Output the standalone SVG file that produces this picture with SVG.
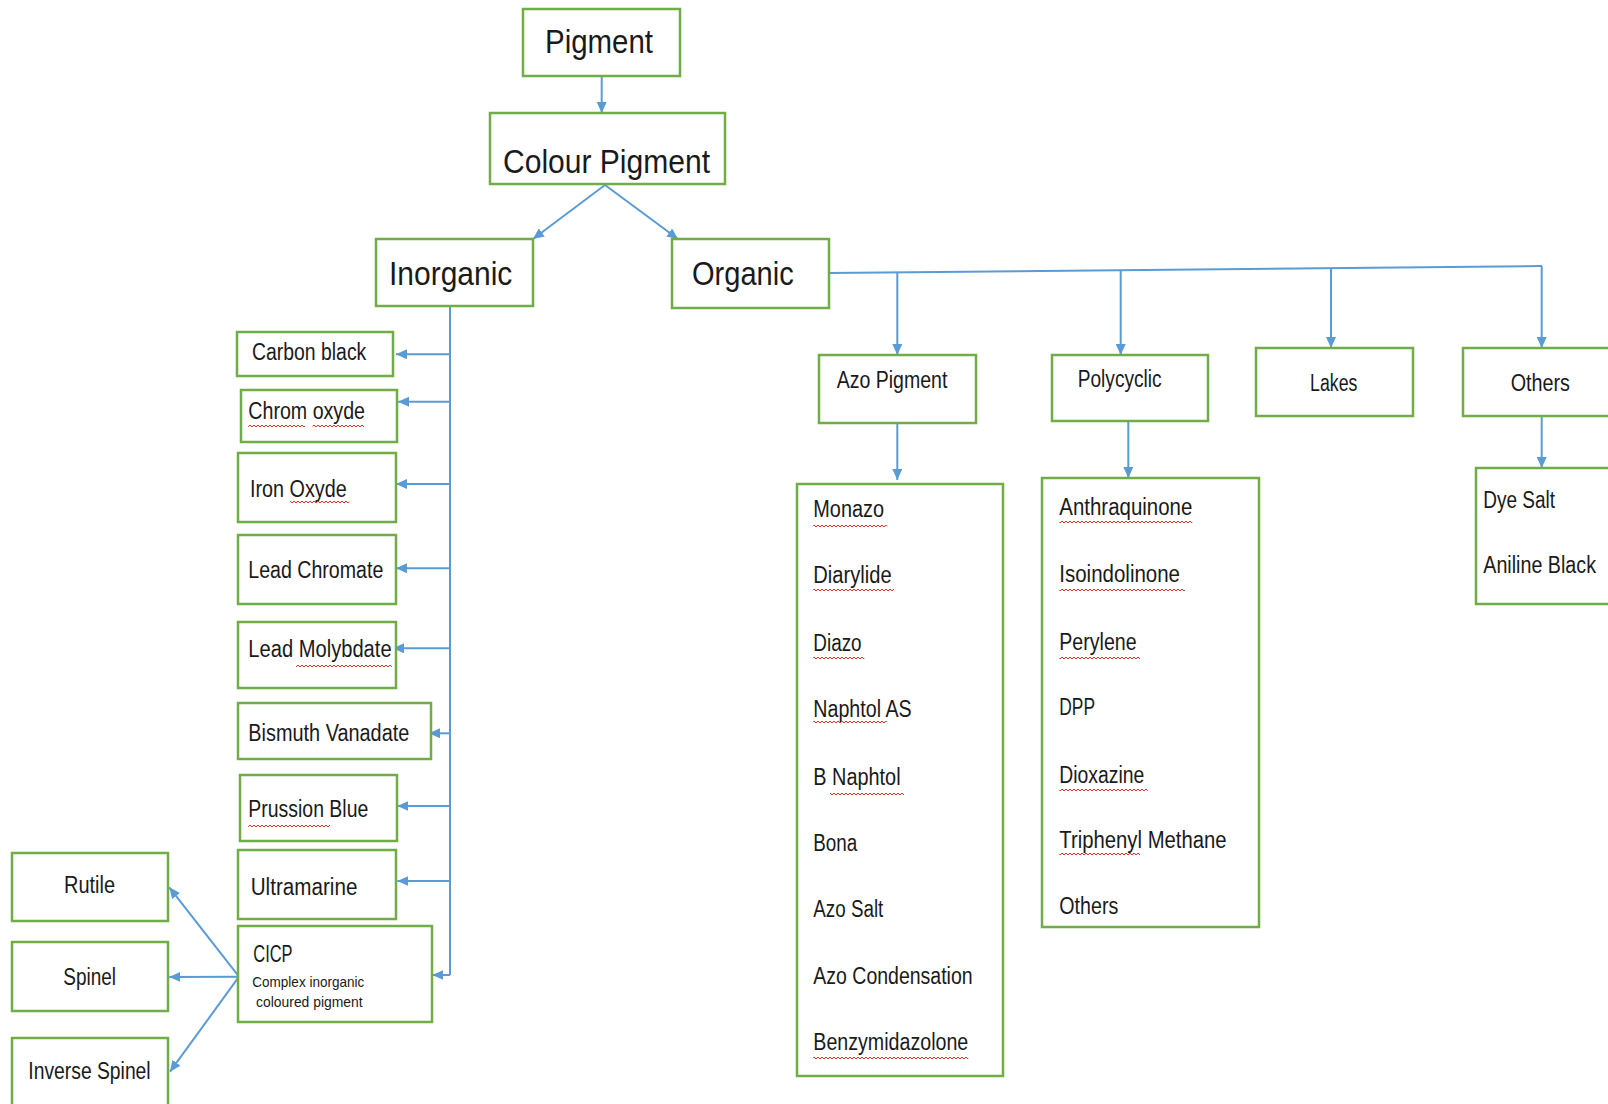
<svg xmlns="http://www.w3.org/2000/svg" width="1608" height="1104" viewBox="0 0 1608 1104">
<style>
.box{fill:#fff;stroke:#70AD47;stroke-width:2.5}
.t{font-family:"Liberation Sans",Arial,sans-serif;fill:#1a1a1a}
.xl{font-size:34px}
.md{font-size:23px}
.sm{font-size:14.5px}
.c{stroke:#5B9BD5;stroke-width:2;fill:none}
.arr{marker-end:url(#ah)}
.sq{fill:url(#squig)}
</style>
<defs>
<marker id="ah" markerUnits="userSpaceOnUse" markerWidth="12" markerHeight="10" refX="11" refY="5" orient="auto">
<path d="M0,0 L11,5 L0,10 z" fill="#5B9BD5"/>
</marker>
<pattern id="squig" patternUnits="userSpaceOnUse" width="4" height="4">
<path d="M0,3 L2,1 L4,3" stroke="#E03030" stroke-width="1" fill="none"/>
</pattern>
</defs>
<rect width="1608" height="1104" fill="#fff"/>

<g id="connectors">
<line class="c arr" x1="601.7" y1="76" x2="601.7" y2="113"/>
<line class="c arr" x1="605" y1="185" x2="533" y2="239"/>
<line class="c arr" x1="605" y1="185" x2="678" y2="239"/>
<line class="c" x1="829" y1="273" x2="1542" y2="266"/>
<line class="c arr" x1="897.3" y1="272.3" x2="897.3" y2="355"/>
<line class="c arr" x1="1120.7" y1="270" x2="1120.7" y2="355"/>
<line class="c arr" x1="1331" y1="268" x2="1331" y2="348"/>
<line class="c arr" x1="1541.7" y1="266" x2="1541.7" y2="348"/>
<line class="c arr" x1="897.3" y1="423" x2="897.3" y2="480"/>
<line class="c arr" x1="1128.3" y1="421" x2="1128.3" y2="478"/>
<line class="c arr" x1="1541.7" y1="416" x2="1541.7" y2="468"/>
<line class="c" x1="450" y1="306" x2="450" y2="975"/>
<line class="c arr" x1="450" y1="354.3" x2="396" y2="354.3"/>
<line class="c arr" x1="450" y1="401.7" x2="398" y2="401.7"/>
<line class="c arr" x1="450" y1="484" x2="396" y2="484"/>
<line class="c arr" x1="450" y1="568.3" x2="396" y2="568.3"/>
<line class="c arr" x1="450" y1="648.3" x2="393" y2="648.3"/>
<line class="c arr" x1="450" y1="733.3" x2="429" y2="733.3"/>
<line class="c arr" x1="450" y1="806" x2="397.3" y2="806"/>
<line class="c arr" x1="450" y1="881" x2="397.3" y2="881"/>
<line class="c arr" x1="450" y1="975" x2="432.3" y2="975"/>
<line class="c arr" x1="239" y1="976.7" x2="169.3" y2="887.3"/>
<line class="c arr" x1="239" y1="976.7" x2="169.3" y2="977"/>
<line class="c arr" x1="239" y1="976.7" x2="170" y2="1071.7"/>
</g>

<g id="pigment"><rect class="box" x="523" y="9" width="157" height="67"/><text class="t xl" x="545" y="53" textLength="108" lengthAdjust="spacingAndGlyphs">Pigment</text></g>
<g id="colour-pigment"><rect class="box" x="490" y="113" width="235" height="71"/><text class="t xl" x="503" y="172.7" textLength="207" lengthAdjust="spacingAndGlyphs">Colour Pigment</text></g>
<g id="inorganic"><rect class="box" x="376" y="239" width="157" height="67"/><text class="t xl" x="389" y="285" textLength="123.3" lengthAdjust="spacingAndGlyphs">Inorganic</text></g>
<g id="organic"><rect class="box" x="672" y="239" width="157" height="69"/><text class="t xl" x="692" y="285" textLength="101.7" lengthAdjust="spacingAndGlyphs">Organic</text></g>

<g id="carbon-black"><rect class="box" x="237" y="332" width="156" height="44"/><text class="t md" x="252" y="360" textLength="114.3" lengthAdjust="spacingAndGlyphs">Carbon black</text></g>
<g id="chrom-oxyde"><rect class="box" x="241" y="390" width="156" height="52"/><text class="t md" x="248.3" y="418.7" textLength="116.7" lengthAdjust="spacingAndGlyphs">Chrom oxyde</text><rect class="sq" x="248.3" y="424" width="56.7" height="4"/><rect class="sq" x="312.7" y="424" width="51.3" height="4"/></g>
<g id="iron-oxyde"><rect class="box" x="238" y="453" width="158" height="69"/><text class="t md" x="250" y="496.7" textLength="96.7" lengthAdjust="spacingAndGlyphs">Iron Oxyde</text><rect class="sq" x="290" y="500" width="59.3" height="4"/></g>
<g id="lead-chromate"><rect class="box" x="238" y="535" width="158" height="69"/><text class="t md" x="248.3" y="578" textLength="135" lengthAdjust="spacingAndGlyphs">Lead Chromate</text></g>
<g id="lead-molybdate"><rect class="box" x="238" y="622" width="158" height="66"/><text class="t md" x="248.3" y="656.7" textLength="143.3" lengthAdjust="spacingAndGlyphs">Lead Molybdate</text><rect class="sq" x="296" y="664" width="95.7" height="4"/></g>
<g id="bismuth-vanadate"><rect class="box" x="238" y="703" width="193" height="56"/><text class="t md" x="248.3" y="740.7" textLength="161" lengthAdjust="spacingAndGlyphs">Bismuth Vanadate</text></g>
<g id="prussion-blue"><rect class="box" x="240" y="775" width="157" height="66"/><text class="t md" x="248.3" y="817.3" textLength="120" lengthAdjust="spacingAndGlyphs">Prussion Blue</text><rect class="sq" x="248.3" y="824" width="81.7" height="4"/></g>
<g id="ultramarine"><rect class="box" x="238" y="850" width="158" height="69"/><text class="t md" x="250.7" y="895" textLength="106.7" lengthAdjust="spacingAndGlyphs">Ultramarine</text></g>
<g id="cicp"><rect class="box" x="238" y="926" width="194" height="96"/><text class="t" font-size="24" x="253.3" y="961.7" textLength="39.3" lengthAdjust="spacingAndGlyphs">CICP</text><text class="t sm" x="252.3" y="987.3" textLength="112" lengthAdjust="spacingAndGlyphs">Complex inorganic</text><text class="t sm" x="256" y="1007.3" textLength="106.7" lengthAdjust="spacingAndGlyphs">coloured pigment</text></g>

<g id="rutile"><rect class="box" x="12" y="853" width="156" height="68"/><text class="t md" x="89.5" y="893.3" text-anchor="middle" textLength="51" lengthAdjust="spacingAndGlyphs">Rutile</text></g>
<g id="spinel"><rect class="box" x="12" y="942" width="156" height="69"/><text class="t md" x="89.7" y="985" text-anchor="middle" textLength="52.7" lengthAdjust="spacingAndGlyphs">Spinel</text></g>
<g id="inverse-spinel"><rect class="box" x="12" y="1038" width="156" height="80"/><text class="t md" x="89.5" y="1079.3" text-anchor="middle" textLength="122.3" lengthAdjust="spacingAndGlyphs">Inverse Spinel</text></g>

<g id="azo-pigment"><rect class="box" x="819" y="355" width="157" height="68"/><text class="t md" x="836.7" y="388.3" textLength="110.7" lengthAdjust="spacingAndGlyphs">Azo Pigment</text></g>
<g id="polycyclic"><rect class="box" x="1052" y="355" width="156" height="66"/><text class="t md" x="1077.7" y="387.3" textLength="84" lengthAdjust="spacingAndGlyphs">Polycyclic</text></g>
<g id="lakes"><rect class="box" x="1256" y="348" width="157" height="68"/><text class="t md" x="1333.7" y="390.7" text-anchor="middle" textLength="47.3" lengthAdjust="spacingAndGlyphs">Lakes</text></g>
<g id="others"><rect class="box" x="1463" y="348" width="160" height="68"/><text class="t md" x="1540.3" y="390.7" text-anchor="middle" textLength="59.3" lengthAdjust="spacingAndGlyphs">Others</text></g>

<g id="azo-list"><rect class="box" x="797" y="484" width="206" height="592"/>
<text class="t md" x="813.3" y="516.7" textLength="70.7" lengthAdjust="spacingAndGlyphs">Monazo</text><rect class="sq" x="813.3" y="524" width="73.4" height="4"/>
<text class="t md" x="813.3" y="583.3" textLength="78.3" lengthAdjust="spacingAndGlyphs">Diarylide</text><rect class="sq" x="813.3" y="588" width="80.7" height="4"/>
<text class="t md" x="813.3" y="651" textLength="48.3" lengthAdjust="spacingAndGlyphs">Diazo</text><rect class="sq" x="813.3" y="656" width="51" height="4"/>
<text class="t md" x="813.3" y="716.7" textLength="98.3" lengthAdjust="spacingAndGlyphs">Naphtol AS</text><rect class="sq" x="813.3" y="720" width="73.4" height="4"/>
<text class="t md" x="813.3" y="785" textLength="87.3" lengthAdjust="spacingAndGlyphs">B Naphtol</text><rect class="sq" x="830" y="792" width="74" height="4"/>
<text class="t md" x="813.3" y="851" textLength="44" lengthAdjust="spacingAndGlyphs">Bona</text>
<text class="t md" x="813.3" y="916.7" textLength="70" lengthAdjust="spacingAndGlyphs">Azo Salt</text>
<text class="t md" x="813.3" y="984" textLength="159.3" lengthAdjust="spacingAndGlyphs">Azo Condensation</text>
<text class="t md" x="813.3" y="1050" textLength="155" lengthAdjust="spacingAndGlyphs">Benzymidazolone</text><rect class="sq" x="813.3" y="1056" width="155" height="4"/>
</g>

<g id="polycyclic-list"><rect class="box" x="1042" y="478" width="217" height="449"/>
<text class="t md" x="1059.3" y="515" textLength="133" lengthAdjust="spacingAndGlyphs">Anthraquinone</text><rect class="sq" x="1059.3" y="520" width="133" height="4"/>
<text class="t md" x="1059.3" y="581.7" textLength="120.7" lengthAdjust="spacingAndGlyphs">Isoindolinone</text><rect class="sq" x="1059.3" y="588" width="125.7" height="4"/>
<text class="t md" x="1059.3" y="650" textLength="77.3" lengthAdjust="spacingAndGlyphs">Perylene</text><rect class="sq" x="1059.3" y="656" width="80.7" height="4"/>
<text class="t md" x="1059.3" y="715" textLength="35.7" lengthAdjust="spacingAndGlyphs">DPP</text>
<text class="t md" x="1059.3" y="782.7" textLength="85" lengthAdjust="spacingAndGlyphs">Dioxazine</text><rect class="sq" x="1059.3" y="788" width="88.4" height="4"/>
<text class="t md" x="1059.3" y="848.3" textLength="167.3" lengthAdjust="spacingAndGlyphs">Triphenyl Methane</text><rect class="sq" x="1059.3" y="852" width="80.7" height="4"/>
<text class="t md" x="1059.3" y="914.3" textLength="59" lengthAdjust="spacingAndGlyphs">Others</text>
</g>

<g id="others-list"><rect class="box" x="1476" y="468" width="150" height="136"/>
<text class="t md" x="1483.3" y="508.3" textLength="71.7" lengthAdjust="spacingAndGlyphs">Dye Salt</text>
<text class="t md" x="1483.3" y="573.3" textLength="112.7" lengthAdjust="spacingAndGlyphs">Aniline Black</text>
</g>
</svg>
